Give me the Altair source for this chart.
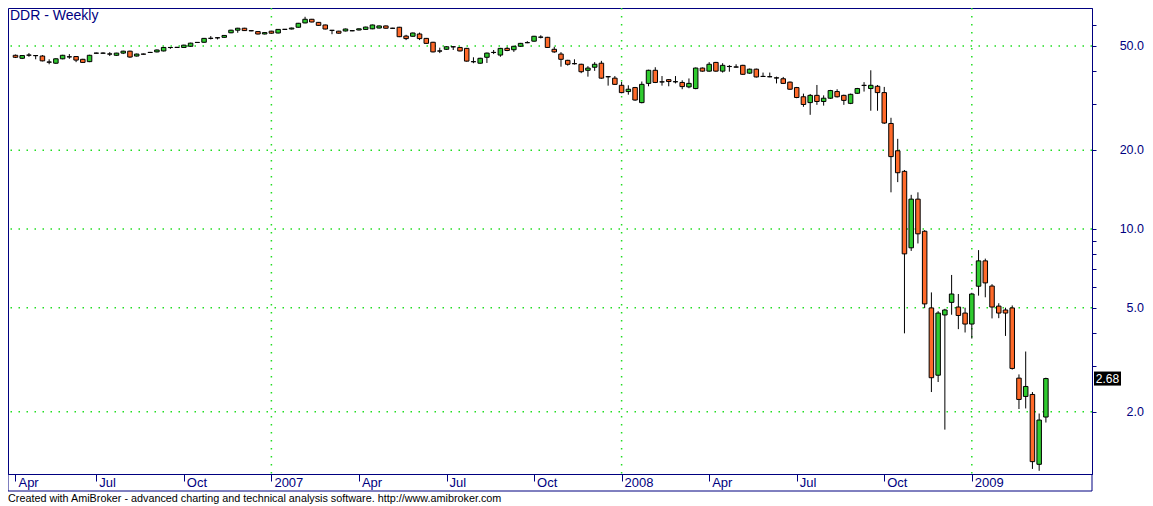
import altair as alt
import pandas as pd

# ---------------- data ----------------
chart_title = "DDR - Weekly"
footer_text = ("Created with AmiBroker - advanced charting and technical analysis software. "
               "http://www.amibroker.com")
first_week = "2006-04-14"          # weekly bars, one every 7 days
view_start = "2006-04-11 10:17"
view_end = "2009-05-01 17:20"

opens = [
    46.1, 44.9, 46.2, 46.0, 45.8, 43.45, 43.0, 44.7, 45.5, 45.6,
    44.5, 43.6, 47.0, 46.95, 46.65, 46.1, 47.0, 47.8, 45.8, 46.6,
    47.3, 47.5, 47.9, 49.4, 49.4, 49.4, 49.9, 51.6, 51.7, 53.5,
    53.8, 54.0, 56.2, 57.5, 58.5, 57.25, 56.8, 55.6, 57.0, 56.1,
    57.9, 58.1, 59.0, 61.3, 63.3, 61.6, 60.2, 57.45, 57.0, 57.1,
    57.2, 57.6, 57.9, 58.2, 58.6, 59.7, 58.5, 59.0, 54.6, 54.5,
    55.6, 53.5, 51.7, 47.9, 48.6, 49.7, 49.4, 49.0, 43.6, 43.0,
    45.3, 47.3, 46.2, 49.0, 48.4, 49.9, 51.5, 52.2, 54.1, 54.0,
    48.6, 46.6, 44.1, 42.85, 42.6, 40.4, 41.5, 43.0, 38.2, 37.7,
    35.4, 33.5, 34.7, 30.4, 36.0, 40.4, 36.5, 37.2, 36.5, 36.3,
    34.9, 34.4, 41.2, 40.1, 43.3, 40.1, 41.8, 41.6, 42.2, 39.4,
    40.8, 38.3, 38.2, 37.8, 37.5, 36.4, 34.7, 32.0, 30.4, 32.4,
    30.7, 31.6, 33.5, 32.4, 30.2, 33.0, 35.4, 34.4, 35.1, 33.2,
    25.3, 19.9, 16.6, 8.47, 13.0, 9.8, 4.99, 2.76, 4.69, 5.24,
    5.03, 4.77, 4.33, 6.04, 7.55, 6.05, 5.07, 4.9, 4.99, 2.69,
    2.29, 2.33, 1.26, 1.91,
]
highs = [
    46.4, 46.2, 47.0, 46.1, 46.2, 44.5, 44.9, 46.3, 46.6, 45.8,
    44.7, 46.3, 47.2, 47.3, 47.4, 47.1, 48.0, 48.0, 46.8, 46.8,
    47.5, 48.5, 49.6, 49.5, 49.6, 50.6, 51.5, 51.8, 53.7, 54.6,
    54.0, 55.1, 57.7, 58.7, 58.7, 57.4, 57.0, 56.5, 57.2, 58.1,
    58.1, 58.8, 61.3, 64.7, 63.5, 61.8, 60.4, 57.6, 57.2, 58.3,
    57.4, 58.4, 59.3, 60.4, 59.9, 59.9, 58.7, 59.2, 55.2, 56.3,
    56.3, 53.7, 51.9, 49.3, 49.9, 49.8, 49.6, 49.2, 45.3, 45.1,
    47.2, 48.3, 49.2, 49.6, 50.1, 51.4, 52.2, 54.7, 55.0, 54.2,
    49.7, 47.4, 44.3, 44.5, 42.8, 41.9, 43.4, 43.9, 38.4, 38.4,
    36.5, 35.4, 34.9, 36.6, 40.6, 41.5, 38.4, 37.4, 38.4, 37.0,
    37.6, 41.4, 41.4, 43.4, 43.5, 43.0, 42.3, 42.6, 42.4, 41.0,
    41.0, 39.6, 39.6, 38.2, 38.1, 36.6, 34.9, 32.9, 32.8, 35.5,
    32.4, 34.0, 34.2, 32.6, 32.9, 34.6, 36.4, 40.4, 35.5, 34.9,
    26.6, 22.1, 16.8, 13.5, 13.8, 9.9, 5.72, 4.85, 4.95, 6.67,
    5.64, 5.0, 5.7, 8.3, 7.7, 6.15, 5.2, 5.0, 5.1, 2.78,
    3.4, 2.38, 1.97, 2.70,
]
lows = [
    45.0, 44.6, 45.5, 44.5, 43.7, 42.6, 42.8, 44.5, 44.7, 43.4,
    43.1, 43.4, 46.8, 46.8, 45.8, 45.9, 46.6, 45.1, 45.6, 46.4,
    47.1, 47.3, 47.7, 48.8, 49.2, 49.2, 49.7, 51.4, 51.5, 53.0,
    53.0, 53.8, 56.0, 56.2, 57.1, 57.0, 55.4, 55.4, 55.8, 55.9,
    57.7, 57.9, 58.8, 61.1, 61.6, 59.8, 57.9, 55.5, 55.8, 56.9,
    57.0, 57.4, 57.7, 58.0, 58.4, 58.3, 58.3, 54.1, 52.7, 54.3,
    52.7, 51.0, 47.3, 47.0, 48.4, 48.3, 47.7, 43.6, 43.0, 42.8,
    43.1, 46.6, 45.5, 47.8, 47.5, 49.7, 51.3, 52.0, 53.5, 49.2,
    47.1, 41.7, 42.1, 42.5, 39.4, 38.2, 40.2, 37.5, 35.3, 35.5,
    33.0, 32.6, 30.9, 30.2, 35.1, 36.1, 35.3, 35.1, 36.0, 34.2,
    34.5, 34.2, 39.9, 39.9, 39.9, 39.6, 39.9, 41.4, 38.8, 39.2,
    37.9, 38.1, 38.0, 36.0, 35.8, 34.0, 31.6, 29.3, 27.3, 29.8,
    29.6, 31.4, 31.8, 29.8, 30.0, 32.8, 33.5, 28.3, 28.3, 25.2,
    13.8, 15.1, 3.99, 8.24, 8.8, 4.98, 2.38, 2.6, 1.71, 4.7,
    4.14, 4.02, 3.81, 5.56, 5.48, 4.55, 4.56, 3.9, 2.9, 2.05,
    2.06, 1.21, 1.19, 1.82,
]
closes = [
    45.3, 46.0, 46.15, 45.95, 43.9, 43.4, 44.7, 46.1, 45.45, 44.2,
    43.3, 46.1, 46.95, 47.0, 46.6, 47.0, 47.8, 45.4, 46.6, 46.55,
    47.25, 48.3, 49.4, 49.35, 49.45, 50.4, 51.3, 51.65, 53.5, 53.55,
    53.75, 54.9, 57.5, 58.5, 57.3, 57.2, 55.6, 56.3, 56.0, 57.9,
    57.95, 58.6, 61.1, 63.3, 61.8, 60.0, 58.1, 57.4, 56.0, 58.1,
    57.25, 58.2, 59.1, 60.2, 59.7, 58.5, 58.45, 54.3, 53.4, 56.1,
    53.4, 51.2, 47.5, 47.85, 49.7, 49.65, 47.9, 43.8, 43.55, 44.9,
    47.0, 47.25, 49.0, 48.1, 49.9, 51.2, 51.55, 54.5, 54.05, 49.4,
    47.5, 44.5, 42.6, 42.8, 39.9, 41.2, 42.6, 37.7, 38.15, 35.7,
    33.2, 34.2, 31.1, 35.7, 40.4, 36.3, 36.45, 36.6, 36.55, 35.0,
    36.0, 41.2, 40.1, 42.6, 40.1, 42.2, 41.75, 41.55, 39.0, 40.8,
    38.1, 38.25, 38.15, 37.75, 36.0, 34.2, 31.8, 29.9, 32.4, 30.7,
    31.6, 33.8, 32.0, 31.0, 32.7, 34.4, 35.35, 35.4, 33.2, 25.4,
    18.9, 16.4, 8.03, 13.0, 9.58, 5.17, 2.70, 4.77, 4.9, 5.64,
    4.67, 4.33, 5.64, 7.55, 6.22, 5.03, 4.77, 4.77, 2.93, 2.23,
    2.5, 1.29, 1.86, 2.68,
]

tick_dates = ["2006-04-14", "2006-07-07", "2006-10-06", "2007-01-05",
              "2007-04-06", "2007-07-06", "2007-10-05", "2008-01-04",
              "2008-04-04", "2008-07-04", "2008-10-03", "2009-01-02"]
tick_labels = ["Apr", "Jul", "Oct", "2007", "Apr", "Jul", "Oct", "2008",
               "Apr", "Jul", "Oct", "2009"]
year_lines = ["2007-01-05", "2008-01-04", "2009-01-02"]
price_grid = [2, 5, 10, 20, 50]
price_grid_labels = ["2.0", "5.0", "10.0", "20.0", "50.0"]
price_ticks = [2, 3, 4, 5, 6, 7, 8, 9, 10, 20, 30, 40, 50, 60, 70]
last_close = 2.68
y_min, y_max = 1.157, 69.9

# ---------------- styling ----------------
navy = "#000080"
grid_green = "#22DD22"
up_color = "#2FCB2F"
down_color = "#FF6A2A"
FONT = "Liberation Sans"
PLOT_W = 1084
PLOT_H = 466
PAD_R = 53


def ms(d):
    return int(pd.Timestamp(d, tz="UTC").timestamp() * 1000)


dates = pd.date_range(first_week, periods=len(opens), freq="7D").strftime("%Y-%m-%d").tolist()
df = pd.DataFrame({"date": dates, "open": opens, "high": highs, "low": lows, "close": closes})
df["dir"] = ["up" if c >= o else "down" for o, c in zip(opens, closes)]

x_scale = alt.Scale(domain=[ms(view_start), ms(view_end)])
y_scale = alt.Scale(type="log", domain=[y_min, y_max], nice=False, zero=False)

x_axis = alt.Axis(
    values=[ms(d) for d in tick_dates], labels=False, title=None, grid=False,
    tickSize=7, tickColor=navy, domainColor=navy,
)
y_axis = alt.Axis(
    orient="right", values=price_ticks, labels=False, title=None, grid=False,
    tickSize=4, tickColor=navy, domainColor=navy,
)

hgrid = alt.Chart(pd.DataFrame({"p": price_grid})).mark_rule(
    color=grid_green, strokeDash=[1.5, 6.5], strokeWidth=1.5
).encode(y=alt.Y("p:Q", scale=y_scale, axis=y_axis))

vgrid = alt.Chart(pd.DataFrame({"d": year_lines})).mark_rule(
    color=grid_green, strokeDash=[1.5, 6.5], strokeWidth=1.5
).encode(x=alt.X("d:T", scale=x_scale, axis=x_axis))

wicks = alt.Chart(df).mark_rule(color="black", strokeWidth=1).encode(
    x=alt.X("date:T", scale=x_scale, axis=x_axis),
    y=alt.Y("low:Q", scale=y_scale, axis=y_axis),
    y2="high:Q",
)

bodies = alt.Chart(df).mark_bar(size=4.5, stroke="black", strokeWidth=1, opacity=1).encode(
    x=alt.X("date:T", scale=x_scale, axis=x_axis),
    y=alt.Y("open:Q", scale=y_scale, axis=y_axis),
    y2="close:Q",
    color=alt.Color("dir:N", scale=alt.Scale(domain=["up", "down"], range=[up_color, down_color]),
                    legend=None),
)

x_labels = alt.Chart(pd.DataFrame({"d": tick_dates, "l": tick_labels})).mark_text(
    align="left", baseline="top", dx=3, fontSize=13, font=FONT, color=navy
).encode(x=alt.X("d:T", scale=x_scale, axis=x_axis), y=alt.value(PLOT_H + 3), text="l:N")

y_labels = alt.Chart(pd.DataFrame({"p": price_grid, "l": price_grid_labels})).mark_text(
    align="right", baseline="middle", fontSize=12.5, font=FONT, color=navy
).encode(x=alt.value(PLOT_W + PAD_R - 1), y=alt.Y("p:Q", scale=y_scale, axis=y_axis), text="l:N")

badge_df = pd.DataFrame({"v": [last_close], "t": [f"{last_close:.2f}"]})
badge = alt.Chart(badge_df).mark_point(
    shape="M-1,-0.52L1,-0.52L1,0.52L-1,0.52Z", size=729, filled=True, color="black", opacity=1
).encode(x=alt.value(PLOT_W + 15.5), y=alt.Y("v:Q", scale=y_scale, axis=y_axis))
badge_text = alt.Chart(badge_df).mark_text(
    color="white", fontSize=12, font=FONT, align="center", baseline="middle"
).encode(x=alt.value(PLOT_W + 15.5), y=alt.Y("v:Q", scale=y_scale, axis=y_axis), text="t:N")

title = alt.Chart(pd.DataFrame({"t": [chart_title]})).mark_text(
    align="left", baseline="top", fontSize=14, color=navy, font=FONT
).encode(x=alt.value(2), y=alt.value(1), text="t:N")

footer = alt.Chart(pd.DataFrame({"t": [footer_text]})).mark_text(
    align="left", baseline="middle", fontSize=10.8, color="black", font=FONT
).encode(x=alt.value(0), y=alt.value(PLOT_H + 25), text="t:N")

one = pd.DataFrame({"a": [0]})
strip_bottom = alt.Chart(one).mark_rule(color=navy, strokeWidth=1).encode(
    x=alt.value(0), x2=alt.value(PLOT_W), y=alt.value(PLOT_H + 17))
strip_left = alt.Chart(one).mark_rule(color=navy, strokeWidth=1).encode(
    x=alt.value(0), y=alt.value(PLOT_H), y2=alt.value(PLOT_H + 17))
strip_right = alt.Chart(one).mark_rule(color=navy, strokeWidth=1).encode(
    x=alt.value(PLOT_W), y=alt.value(PLOT_H), y2=alt.value(PLOT_H + 17))

chart = alt.layer(
    hgrid, vgrid, wicks, bodies, x_labels, y_labels, badge, badge_text, title, footer,
    strip_bottom, strip_left, strip_right,
).properties(
    width=PLOT_W, height=PLOT_H,
    padding={"left": 0, "top": 0, "right": PAD_R, "bottom": 32},
    autosize=alt.AutoSizeParams(type="none"),
    background="white",
).configure_view(stroke=navy, strokeWidth=1)

chart.save("out.html", embed_options={"renderer": "svg", "actions": False})
